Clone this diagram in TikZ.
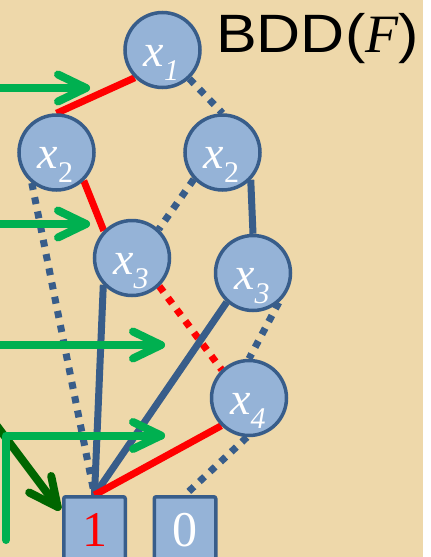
\documentclass[tikz,border=0pt]{standalone}
\usepackage{fontspec}
\setmainfont{Liberation Serif}
\newfontfamily\labelsans[FakeStretch=1.13]{Liberation Sans}
\usetikzlibrary{calc}

\definecolor{paper}{HTML}{EED8AA}
\definecolor{nodefill}{HTML}{95B3D7}
\definecolor{nodeline}{HTML}{385D8A}
\definecolor{hiline}{HTML}{FF0000}
\definecolor{pointer}{HTML}{00B050}
\definecolor{pointerdark}{HTML}{006600}

\pgfdeclarelayer{paperlayer}
\pgfdeclarelayer{edgelayer}
\pgfsetlayers{paperlayer,edgelayer,main}

% variable name with its index, e.g. x_1
\newcommand{\varlab}[1]{{\fontsize{46}{46}\selectfont\itshape x}\raisebox{-14pt}{\fontsize{30}{30}\selectfont\itshape #1}}

\tikzset{
  vnode/.style={circle, draw=nodeline, fill=nodefill, line width=3.5pt,
    minimum size=75pt, inner sep=0pt},
  vlab/.style={anchor=base, inner sep=0pt, text=white},
  leaf/.style={rectangle, rounded corners=2pt, draw=nodeline, fill=nodefill,
    line width=3.5pt, minimum width=61.5pt, minimum height=66pt, inner sep=0pt,
    anchor=north, font=\fontsize{50}{50}\selectfont},
  hiedge/.style={draw=hiline, line width=7pt},
  loedge/.style={draw=nodeline, line width=7pt},
  dotted edge/.style={dash pattern=on 7pt off 7.5pt},
  ptr/.style={draw=pointer, line width=8pt, line cap=round, line join=round},
  ptrdark/.style={ptr, draw=pointerdark},
}

\begin{document}
\begin{tikzpicture}[x=1pt, y=-1pt]
  \useasboundingbox (0,0) rectangle (431,557);
  \begin{pgfonlayer}{paperlayer}
    \fill[paper] (0,0) rectangle (423,557);
  \end{pgfonlayer}

  % decision nodes
  \node[vnode] (x1)  at (162.5, 50)  {};
  \node[vnode] (x2a) at (56.5, 152.5) {};
  \node[vnode] (x2b) at (222.5, 152.5) {};
  \node[vnode] (x3a) at (132, 258) {};
  \node[vnode] (x3b) at (253, 273) {};
  \node[vnode] (x4)  at (249, 398) {};

  \node[vlab] (x1l)  at ($(x1)+(-1,16)$)  {\varlab{1}};
  \node[vlab] (x2al) at ($(x2a)+(-1,16)$) {\varlab{\upshape 2}};
  \node[vlab] (x2bl) at ($(x2b)+(-1,16)$) {\varlab{\upshape 2}};
  \node[vlab] (x3al) at ($(x3a)+(-1,16)$) {\varlab{3}};
  \node[vlab] (x3bl) at ($(x3b)+(-1,16)$) {\varlab{3}};
  \node[vlab] (x4l)  at ($(x4)+(-1,16)$)  {\varlab{4}};

  % terminal nodes
  \node[leaf, text=hiline] (one)  at (94.5, 495) {1};
  \node[leaf, text=white]  (zero) at (185, 495)  {0};

  % title
  \node[anchor=base west, inner sep=0pt, font=\fontsize{54}{54}\selectfont]
    (title) at (216, 52.7) {{\labelsans BDD(}{\itshape F}{\labelsans )}};

  % edges: solid = 1-branch, dotted = 0-branch, red = highlighted path
  \begin{pgfonlayer}{edgelayer}
    \draw[hiedge] (x1.225) -- (x2a.90);
    \draw[loedge, dotted edge] (x1.313) -- (x2b.90);
    \draw[hiedge] (x2a.314) -- (x3a.136);
    \draw[loedge, dotted edge] (x2a.231) -- (one.north);
    \draw[loedge, dotted edge] (x2b.223) -- (x3a.47);
    \draw[loedge] (x2b.316) -- (x3b.90);
    \draw[loedge] (x3a.223) -- (one.north);
    \draw[hiedge, dotted edge] (x3a.314) -- (x4.134);
    \draw[loedge] (x3b.228) -- (one.north);
    \draw[loedge, dotted edge] (x3b.311) -- (x4.90);
    \draw[hiedge] (x4.225) -- (one.north);
    \draw[loedge, dotted edge] (x4.267) -- (zero.north);
  \end{pgfonlayer}

  % pointers
  \coordinate (d0) at (-6, 422);
  \coordinate (dt) at (57.7, 507);
  \draw[ptrdark] (d0) -- (dt);
  \draw[ptrdark] ($(dt)+(-6.5,-31)$) -- (dt) -- ($(dt)+(-28.5,-14.5)$);

  \coordinate (p1s) at (-6, 88);   \coordinate (p1t) at (86, 88);
  \coordinate (p2s) at (-6, 224);  \coordinate (p2t) at (86, 224);
  \coordinate (p3s) at (-6, 345);  \coordinate (p3t) at (161, 345);
  \coordinate (p4s) at (6, 540);   \coordinate (p4c) at (6, 435.5);
  \coordinate (p4t) at (161, 435.5);

  \draw[ptr] (p1s) -- (p1t);
  \draw[ptr] ($(p1t)+(-28,-13.5)$) -- (p1t) -- ($(p1t)+(-28,13.5)$);
  \draw[ptr] (p2s) -- (p2t);
  \draw[ptr] ($(p2t)+(-28,-13.5)$) -- (p2t) -- ($(p2t)+(-28,13.5)$);
  \draw[ptr] (p3s) -- (p3t);
  \draw[ptr] ($(p3t)+(-28,-13.5)$) -- (p3t) -- ($(p3t)+(-28,13.5)$);
  \draw[ptr] (p4s) -- (p4c) -- (p4t);
  \draw[ptr] ($(p4t)+(-28,-13.5)$) -- (p4t) -- ($(p4t)+(-28,13.5)$);
\end{tikzpicture}
\end{document}
